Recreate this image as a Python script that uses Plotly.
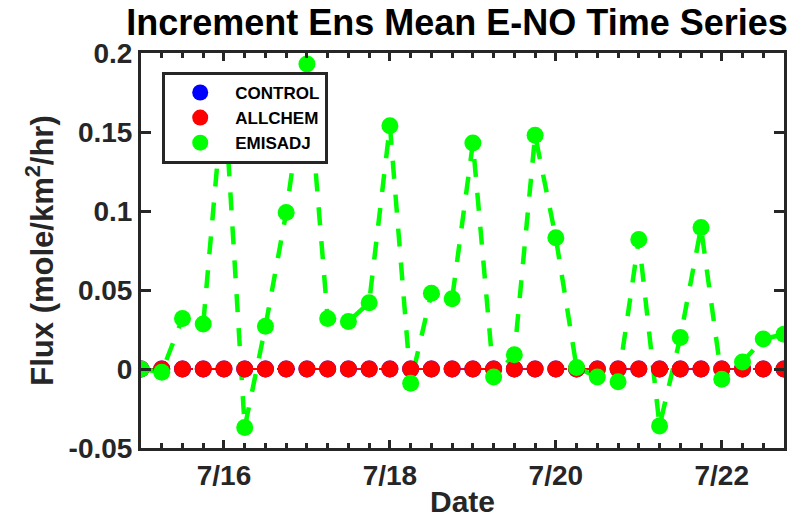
import pandas as pd
import plotly.graph_objects as go

# 6-hourly analysis times, 7/15 00Z through 7/22 18Z
times = pd.date_range("2016-07-15 00:00", periods=32, freq="6h")

control = [0.0] * 32
allchem = [0.0] * 32
emisadj = [
    0.000, -0.002, 0.032, 0.0285,
    0.178, -0.037, 0.027, 0.099,
    0.193, 0.032, 0.030, 0.042,
    0.154, -0.009, 0.048, 0.0445,
    0.143, -0.005, 0.009, 0.148,
    0.083, 0.001, -0.005, -0.008,
    0.082, -0.036, 0.020, 0.0895,
    -0.0065, 0.0045, 0.019, 0.022,
]

tick_vals = pd.to_datetime(["2016-07-16", "2016-07-18", "2016-07-20", "2016-07-22"])
tick_text = ["7/16", "7/18", "7/20", "7/22"]
y_ticks = [-0.05, 0, 0.05, 0.1, 0.15, 0.2]
y_text = ["-0.05", "0", "0.05", "0.1", "0.15", "0.2"]

FONT = "Liberation Sans"
INK = "#262626"
BLUE, RED, GREEN = "#0000ff", "#ff0000", "#00ff00"
MS = 17

fig = go.Figure()

# dashed connecting lines (not in legend)
for y, c, w in [(control, BLUE, 2), (allchem, RED, 2), (emisadj, GREEN, 4.5)]:
    fig.add_trace(go.Scatter(
        x=times, y=y, mode="lines", showlegend=False, hoverinfo="skip",
        line=dict(color=c, width=w, dash="18px,16px"),
    ))

# markers (legend entries)
for name, y, c in [("CONTROL", control, BLUE), ("ALLCHEM", allchem, RED),
                   ("EMISADJ", emisadj, GREEN)]:
    fig.add_trace(go.Scatter(
        x=times, y=y, mode="markers", name=name,
        marker=dict(color=c, size=MS, line=dict(width=0)),
    ))

axis_common = dict(
    showline=True, linecolor=INK, linewidth=3, mirror="ticks",
    ticks="inside", tickcolor=INK, tickwidth=2.5, showgrid=False,
    zeroline=False, automargin=False,
    tickfont=dict(family=FONT, size=28, color=INK, weight="bold"),
)

fig.update_layout(
    width=799, height=522,
    margin=dict(l=141, r=15, t=53, b=74, autoexpand=False),
    paper_bgcolor="white", plot_bgcolor="white",
    title=dict(
        text="Increment Ens Mean E-NO Time Series",
        x=0.572, xanchor="center", y=0.958, yanchor="middle",
        font=dict(family=FONT, size=36, color="black", weight="bold"),
    ),
    xaxis=dict(
        **axis_common,
        range=[times[0], times[-1]],
        tickvals=tick_vals, ticktext=tick_text, ticklen=8,
        minor=dict(dtick=6 * 3600 * 1000, tick0="2016-07-15", ticks="inside",
                   ticklen=5, tickwidth=2.5, tickcolor=INK),
        title=dict(text="Date", standoff=2,
                   font=dict(family=FONT, size=30, color=INK, weight="bold")),
    ),
    yaxis=dict(
        **axis_common,
        range=[-0.05, 0.2], tickvals=y_ticks, ticktext=y_text, ticklen=10,
        title=dict(text="Flux (mole/km<sup>2</sup>/hr)", standoff=6,
                   font=dict(family=FONT, size=31, color=INK, weight="bold")),
    ),
    legend=dict(
        x=0.033, y=0.952, xanchor="left", yanchor="top",
        bgcolor="white", bordercolor=INK, borderwidth=3,
        font=dict(family=FONT, size=17, color="black", weight="bold"),
        itemwidth=60, tracegroupgap=0,
    ),
    showlegend=True,
)

fig.write_html("out.html")
